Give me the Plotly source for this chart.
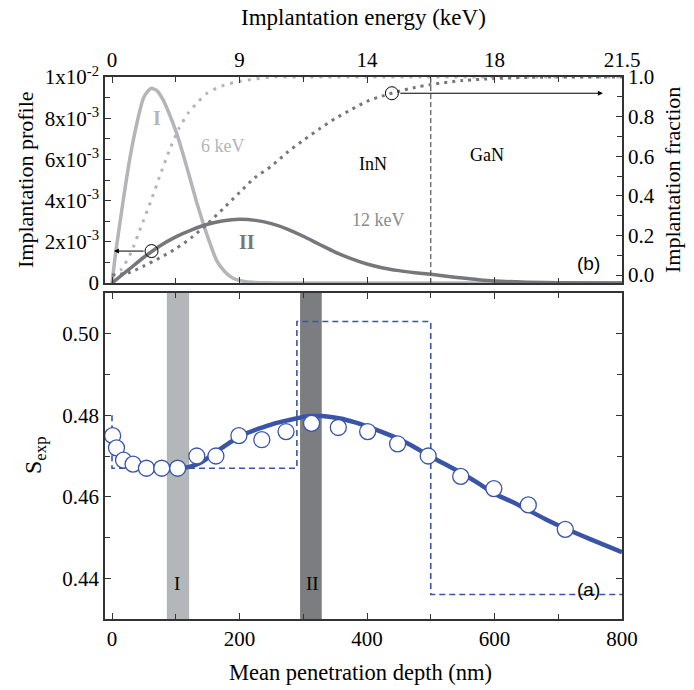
import plotly.graph_objects as go

# ---------------- data ----------------
# top panel: implantation profiles (left axis)
prof6_depth = [0, 5, 10, 18, 28, 39, 49, 56, 62, 70, 80, 90, 101, 112, 123, 133, 143, 154, 164, 177, 190, 210, 240, 300, 400, 500, 600, 700, 800]
prof6_val = [0, 1.3e-3, 2.4e-3, 4.1e-3, 6.05e-3, 7.75e-3, 8.95e-3, 9.3e-3, 9.45e-3, 9.35e-3, 8.9e-3, 8.2e-3, 7.3e-3,
             6.2e-3, 5.0e-3, 3.9e-3, 2.9e-3, 1.9e-3, 1.1e-3, 0.55e-3, 0.23e-3, 0.06e-3, 0.01e-3, 0, 0, 0, 0, 0, 0]

prof12_depth = [0, 25, 50, 75, 100, 125, 150, 175, 200, 225, 250, 275, 300, 325, 350, 375, 400, 425, 450, 475, 500, 525, 550, 575, 600, 650, 700, 800]
prof12_val = [0, 0.62e-3, 1.25e-3, 1.8e-3, 2.24e-3, 2.58e-3, 2.85e-3, 3.02e-3, 3.09e-3, 3.04e-3, 2.88e-3, 2.62e-3, 2.27e-3, 1.88e-3,
              1.5e-3, 1.18e-3, 0.92e-3, 0.73e-3, 0.6e-3, 0.5e-3, 0.42e-3, 0.33e-3, 0.24e-3, 0.16e-3, 0.1e-3, 0.04e-3, 0.01e-3, 0]

# top panel: implantation fractions (right axis)
frac6_depth = [0, 15, 30, 45, 60, 75, 90, 105, 120, 135, 150, 165, 180, 200, 225, 250, 300, 800]
frac6_val = [0, 0.03, 0.115, 0.24, 0.365, 0.5, 0.63, 0.74, 0.82, 0.875, 0.92, 0.945, 0.963, 0.978, 0.99, 1.0, 1.0, 1.0]

frac12_depth = [0, 25, 50, 75, 100, 125, 150, 175, 200, 225, 250, 275, 300, 325, 350, 375, 400, 425, 450, 475, 500, 550, 600, 650, 700, 800]
frac12_val = [0, 0.011, 0.046, 0.087, 0.133, 0.19, 0.26, 0.337, 0.417, 0.494, 0.55, 0.62, 0.68, 0.737, 0.79, 0.835, 0.877, 0.905,
              0.928, 0.947, 0.962, 0.982, 0.992, 0.998, 1.0, 1.0]

# highlighted points with arrows
mark_prof_depth = [62]
mark_prof_val = [1.55e-3]
mark_frac_depth = [439]
mark_frac_val = [0.918]

# bottom panel: S parameter data
s_depth = [1, 7, 18, 33, 54, 78, 103, 133, 163, 199, 235, 273, 313, 355, 401, 448, 496, 547, 599, 653, 711]
s_val = [0.475, 0.472, 0.469, 0.468, 0.467, 0.467, 0.467, 0.470, 0.470, 0.475, 0.474, 0.476, 0.478, 0.477, 0.476, 0.473, 0.470,
         0.465, 0.462, 0.458, 0.452]

fit_depth = [104, 114, 125, 138, 150, 165, 180, 190, 210, 230, 243, 260, 280, 300, 313, 330, 358, 380, 401, 425, 448, 470, 496, 515,
             547, 575, 599, 630, 653, 680, 711, 750, 800]
fit_val = [0.4670, 0.4671, 0.4675, 0.4683, 0.4695, 0.4712, 0.4728, 0.4738, 0.4755, 0.4767, 0.4774, 0.4782, 0.4789, 0.4796, 0.4798,
           0.4798, 0.4792, 0.4783, 0.4772, 0.4758, 0.4743, 0.4726, 0.4702, 0.4686, 0.4659, 0.4633, 0.4608, 0.4586, 0.4567, 0.4545,
           0.4522, 0.4496, 0.4464]

step_depth = [0, 0, 290, 290, 500, 500, 800]
step_val = [0.480, 0.467, 0.467, 0.503, 0.503, 0.436, 0.436]

band_I = [86, 121]
band_II = [295, 329]
interface_depth = 500

bottom_ticks = [0, 200, 400, 600, 800]
energy_ticktext = ["0", "9", "14", "18", "21.5"]
prof_ticks = [0, 0.002, 0.004, 0.006, 0.008, 0.010]
prof_ticktext = ["0", "2x10<sup>-3</sup>", "4x10<sup>-3</sup>", "6x10<sup>-3</sup>", "8x10<sup>-3</sup>", "1x10<sup>-2</sup>"]
frac_ticks = [0, 0.2, 0.4, 0.6, 0.8, 1.0]
s_ticks = [0.44, 0.46, 0.48, 0.50]

# ---------------- styles ----------------
SERIF = "Liberation Serif, 'Times New Roman', Times, 'DejaVu Serif', serif"
SANS = "Liberation Sans, Arial, Helvetica, sans-serif"
BLUE = "#3a55a8"
LGRAY = "#b3b5b8"
DGRAY = "#76777a"
AXC = "#333333"
W, H = 694, 690

def px_x(p):
    return p / W

def px_y(p):
    return 1 - p / H

xdom = [px_x(105), px_x(622)]
top_dom = [px_y(283), px_y(77)]
bot_dom = [px_y(619), px_y(293)]

fig = go.Figure()

# top panel
fig.add_trace(go.Scatter(x=prof6_depth, y=prof6_val, mode="lines", line=dict(color=LGRAY, width=3.5, shape="spline", smoothing=0.6),
                         xaxis="x2", yaxis="y2", showlegend=False))
fig.add_trace(go.Scatter(x=prof12_depth, y=prof12_val, mode="lines", line=dict(color=DGRAY, width=3.5, shape="spline", smoothing=0.8),
                         xaxis="x2", yaxis="y2", showlegend=False))
fig.add_trace(go.Scatter(x=frac6_depth, y=frac6_val, mode="lines", line=dict(color=LGRAY, width=3, dash="3px,6px", shape="spline", smoothing=0.6),
                         xaxis="x2", yaxis="y3", showlegend=False))
fig.add_trace(go.Scatter(x=frac12_depth, y=frac12_val, mode="lines", line=dict(color=DGRAY, width=3, dash="3px,5px", shape="spline", smoothing=0.8),
                         xaxis="x2", yaxis="y3", showlegend=False))
fig.add_trace(go.Scatter(x=mark_prof_depth, y=mark_prof_val, mode="markers",
                         marker=dict(symbol="circle-open", size=13, color="black", line=dict(width=1)),
                         xaxis="x2", yaxis="y2", showlegend=False))
fig.add_trace(go.Scatter(x=mark_frac_depth, y=mark_frac_val, mode="markers",
                         marker=dict(symbol="circle-open", size=13, color="black", line=dict(width=1)),
                         xaxis="x2", yaxis="y3", showlegend=False))
# invisible trace so the top (energy) axis is drawn
fig.add_trace(go.Scatter(x=[bottom_ticks[0], bottom_ticks[-1]], y=[0, 0], mode="lines", line=dict(width=0),
                         opacity=0, hoverinfo="skip", xaxis="x3", yaxis="y2", showlegend=False))

# bottom panel
fig.add_trace(go.Scatter(x=step_depth, y=step_val, mode="lines", line=dict(color=BLUE, width=1.6, dash="6px,4px"),
                         xaxis="x", yaxis="y", showlegend=False))
fig.add_trace(go.Scatter(x=fit_depth, y=fit_val, mode="lines", line=dict(color=BLUE, width=4.5, shape="spline", smoothing=0.6),
                         xaxis="x", yaxis="y", showlegend=False))
fig.add_trace(go.Scatter(x=s_depth, y=s_val, mode="markers",
                         marker=dict(symbol="circle", size=16, color="white", line=dict(color=BLUE, width=1.3)),
                         xaxis="x", yaxis="y", showlegend=False))

# shapes
fig.add_shape(type="rect", xref="x", yref="y domain", x0=band_I[0], x1=band_I[1], y0=0, y1=1,
              fillcolor="#b4b7ba", line=dict(width=0), layer="below")
fig.add_shape(type="rect", xref="x", yref="y domain", x0=band_II[0], x1=band_II[1], y0=0, y1=1,
              fillcolor="#7c7d81", line=dict(width=0), layer="below")
fig.add_shape(type="line", xref="x2", yref="y2 domain", x0=interface_depth, x1=interface_depth, y0=0, y1=1,
              line=dict(color="#555555", width=1.2, dash="5px,3px"))

tickfont = dict(family=SERIF, size=21, color="black")
common = dict(showline=True, linecolor=AXC, linewidth=1.5, ticks="inside", tickcolor=AXC, tickwidth=1.2, ticklen=6,
              showgrid=False, zeroline=False, tickfont=tickfont, automargin=False)

fig.update_layout(
    width=W, height=H, margin=dict(l=0, r=0, t=0, b=0, autoexpand=False),
    paper_bgcolor="white", plot_bgcolor="white",
    font=dict(family=SERIF, color="black"),
    xaxis=dict(domain=xdom, range=[-11, 800], anchor="y", mirror="ticks", tickvals=bottom_ticks,
               minor=dict(tickvals=[100, 300, 500, 700], ticks="inside", ticklen=5, tickcolor=AXC), **common),
    yaxis=dict(domain=bot_dom, range=[0.43, 0.51], anchor="x", mirror="ticks", tickvals=s_ticks, tickformat=".2f",
               minor=dict(tickvals=[0.45, 0.47, 0.49], ticks="inside", ticklen=5, tickcolor=AXC), **common),
    xaxis2=dict(domain=xdom, range=[-11, 800], anchor="y2", side="bottom", tickvals=bottom_ticks, showticklabels=False,
                minor=dict(tickvals=[100, 300, 500, 700], ticks="inside", ticklen=5, tickcolor=AXC), **common),
    xaxis3=dict(domain=xdom, range=[-11, 800], anchor="y2", overlaying="x2", side="top", tickvals=bottom_ticks,
                ticktext=energy_ticktext, minor=dict(tickvals=[100, 300, 500, 700], ticks="inside", ticklen=5, tickcolor=AXC),
                **common),
    yaxis2=dict(domain=top_dom, range=[0, 0.010], anchor="x2", side="left", tickvals=prof_ticks, ticktext=prof_ticktext,
                minor=dict(tickvals=[0.001, 0.003, 0.005, 0.007, 0.009], ticks="inside", ticklen=5, tickcolor=AXC), **common),
    yaxis3=dict(domain=top_dom, range=[-0.04, 1.0], anchor="x2", overlaying="y2", side="right", tickvals=frac_ticks,
                tickformat=".1f", minor=dict(tickvals=[0.1, 0.3, 0.5, 0.7, 0.9], ticks="inside", ticklen=5, tickcolor=AXC),
                **common),
)

ann = []
def text(x, y, s, xref, yref, color="black", size=19, family=SERIF):
    ann.append(dict(x=x, y=y, xref=xref, yref=yref, text=s, showarrow=False,
                    font=dict(family=family, size=size, color=color), xanchor="center", yanchor="middle"))

# axis titles
text(363 / W, px_y(18), "Implantation energy (keV)", "paper", "paper", size=23)
text(360 / W, px_y(672), "Mean penetration depth (nm)", "paper", "paper", size=22.5)
ann.append(dict(x=25 / W, y=px_y(180), xref="paper", yref="paper", text="Implantation profile", textangle=-90, showarrow=False,
                font=dict(family=SERIF, size=22, color="black"), xanchor="center", yanchor="middle"))
ann.append(dict(x=672 / W, y=px_y(180), xref="paper", yref="paper", text="Implantation fraction", textangle=-90, showarrow=False,
                font=dict(family=SERIF, size=22, color="black"), xanchor="center", yanchor="middle"))
ann.append(dict(x=35 / W, y=px_y(455), xref="paper", yref="paper", text="S<sub>exp</sub>", textangle=-90, showarrow=False,
                font=dict(family=SERIF, size=24, color="black"), xanchor="center", yanchor="middle"))

# panel texts
text(70.6, 8.0e-3, "<b>I</b>", "x2", "y2", color=LGRAY, size=20)
text(174, 6.65e-3, "6 keV", "x2", "y2", color=LGRAY, size=18)
text(211, 2.0e-3, "<b>II</b>", "x2", "y2", color=DGRAY, size=20)
text(418, 3.06e-3, "12 keV", "x2", "y2", color="#8a8b8e", size=18)
text(410, 5.8e-3, "InN", "x2", "y2", size=18)
text(588, 6.2e-3, "GaN", "x2", "y2", size=18)
text(747, 0.95e-3, "(b)", "x2", "y2", size=19, family=SANS)
text(102, 0.4387, "I", "x", "y", size=19)
text(314, 0.4387, "II", "x", "y", size=19)
text(747, 0.4372, "(a)", "x", "y", size=19, family=SANS)

# arrows
ann.append(dict(x=3, y=1.55e-3, xref="x2", yref="y2", ax=52, ay=1.55e-3, axref="x2", ayref="y2", text="",
                showarrow=True, arrowhead=2, arrowsize=1, arrowwidth=1, arrowcolor="black"))
ann.append(dict(x=770, y=0.918, xref="x2", yref="y3", ax=450, ay=0.918, axref="x2", ayref="y3", text="",
                showarrow=True, arrowhead=2, arrowsize=1, arrowwidth=1, arrowcolor="black"))

fig.update_layout(annotations=ann)
fig.write_html("out.html")
